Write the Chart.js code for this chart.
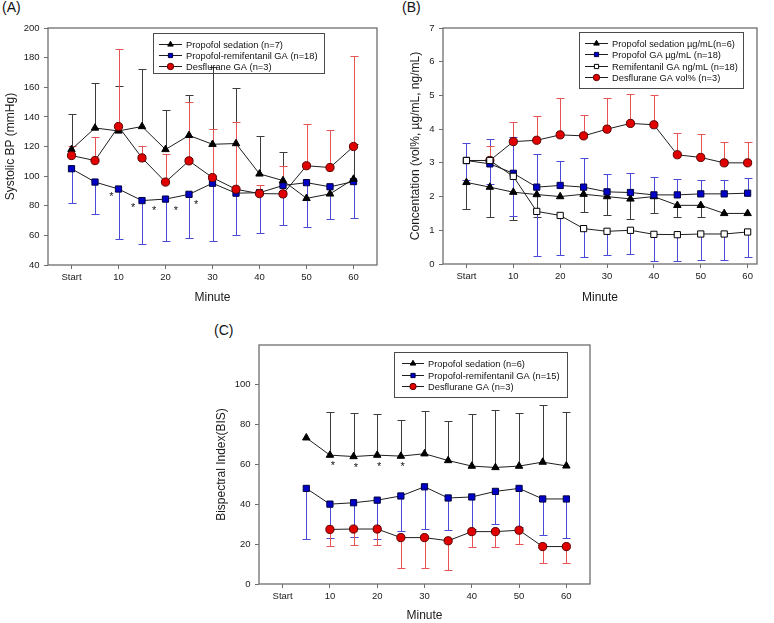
<!DOCTYPE html>
<html><head><meta charset="utf-8">
<script src="https://cdn.jsdelivr.net/npm/chart.js@4/dist/chart.umd.min.js"></script>
<style>
html,body{margin:0;padding:0;background:#fff;}
body{width:774px;height:623px;overflow:hidden;position:relative;font-family:'Liberation Sans',Arial,sans-serif;}
canvas{position:absolute;}
.lbl{position:absolute;font-size:14px;line-height:16px;color:#111;}
</style></head><body>
<div class="lbl" style="left:2px;top:-1px">(A)</div>
<div class="lbl" style="left:402px;top:-1px">(B)</div>
<div class="lbl" style="left:214px;top:322px">(C)</div>
<canvas id="cA" width="387" height="310" style="left:0;top:0"></canvas>
<canvas id="cB" width="369" height="310" style="left:405px;top:0"></canvas>
<canvas id="cC" width="400" height="313" style="left:212px;top:310px"></canvas>
<script>
// ---------- shared ----------
const minutes = [0,5,10,15,20,25,30,35,40,45,50,55,60];
const xTickValues = [0,10,20,30,40,50,60];
const xTickLabels = ['Start','10','20','30','40','50','60'];
const xTitle = 'Minute';

// ---------- Panel A ----------
const aTitle = 'Systolic BP (mmHg)';
const aYTicks = [40,60,80,100,120,140,160,180,200];
const aLabels = ['Propofol sedation (n=7)','Propofol-remifentanil GA (n=18)','Desflurane GA (n=3)'];
const aSedation      = [118,132.5,130.5,133.5,118,127.5,121.5,122,101.5,97,85,88,98];
const aSedationUpper = [141.7,162.7,160.8,172,144.8,154.5,174,159.4,127.4,116,null,null,122];
const aRemi          = [105,96,91.3,83.5,84.5,87.7,95.2,88.5,88.8,93.7,95.6,92.8,96.3];
const aRemiLower     = [82,74.7,57.3,54,56,58,56,60,61.5,67,65.4,71.3,72];
const aDes           = [113.9,110.5,133.5,112.3,96,110.3,99,91.1,88.2,88,107,105.8,120];
const aDesUpper      = [120.5,126.5,185.7,120.2,114.6,150,131.7,136.4,94,106.5,135,131.3,180.8];
const aStarX = [8.5,13.1,17.6,22.2,26.5];
const aStarY = [87.7,80.7,78.7,78.7,82.7];

// ---------- Panel B ----------
const bTitle = 'Concentation (vol%, \u00b5g/mL, ng/mL)';
const bYTicks = [0,1,2,3,4,5,6,7];
const bLabels = ['Propofol sedation \u00b5g/mL(n=6)','Propofol GA \u00b5g/mL (n=18)','Remifentanil GA ng/mL (n=18)','Desflurane GA vol% (n=3)'];
const bSedation      = [2.42,2.28,2.13,2.06,2.0,2.07,2.0,1.93,2.0,1.74,1.74,1.5,1.5];
const bSedationLower = [1.64,1.38,1.30,1.40,null,1.54,1.45,1.33,1.51,1.39,1.39,null,null];
const bPropofol      = [3.07,2.97,2.69,2.28,2.33,2.28,2.14,2.12,2.05,2.05,2.08,2.08,2.1];
const bPropofolUpper = [3.6,3.72,3.76,3.25,3.05,3.13,2.67,2.69,2.57,2.53,2.5,2.5,2.56];
const bRemi          = [3.07,3.07,2.6,1.56,1.44,1.05,0.97,1.0,0.88,0.87,0.89,0.89,0.95];
const bRemiLower     = [2.48,2.38,1.41,0.24,0.28,0.21,0.26,0.29,0.1,0.1,0.11,0.11,0.21];
const bDes           = [null,3.07,3.63,3.67,3.83,3.8,4.0,4.17,4.13,3.24,3.16,3.0,3.0];
const bDesUpper      = [null,3.51,4.22,4.4,4.93,4.41,4.92,5.03,5.0,3.88,3.85,3.63,3.63];

// ---------- Panel C ----------
const cTitle = 'Bispectral Index(BIS)';
const cYTicks = [0,20,40,60,80,100];
const cLabels = ['Propofol sedation (n=6)','Propofol-remifentanil GA (n=15)','Desflurane GA (n=3)'];
const cSedation      = [null,73.4,64.7,64.0,64.7,64.2,65.4,62,59.2,58.5,59.2,61.2,59.3];
const cSedationUpper = [null,null,86.3,85.8,85.2,82.5,87,82,85.5,87.5,85.7,90,86.3];
const cRemi          = [null,48,40.1,40.8,42.1,44.2,48.8,43.2,43.7,46.5,48,42.7,42.7];
const cRemiLower     = [null,22.7,22.9,23.4,22.8,26.6,27.8,27.3,27.8,30.3,28.7,24.7,23.3];
const cDes           = [null,null,27.4,27.6,27.6,23.3,23.3,21.7,26.3,26.3,27,18.8,18.8];
const cDesLower      = [null,null,19.3,19.5,19.5,8,8,7,18.5,18.5,20,10.5,10.5];
const cStarX = [10.6,15.5,20.4,25.4];
const cStarY = [60.8,59.7,60.5,60.5];

// ---------- styles ----------
const FONT = "'Liberation Sans', Arial, sans-serif";
Chart.defaults.font.family = FONT;
Chart.defaults.color = '#1a1a1a';
const ST = {
  tri:   {style:'triangle', radius:4.3, fill:'#000000', border:'#000000', err:'#3c3c3c', lr:3.2},
  blue:  {style:'rect',     radius:4.4, fill:'#0000c8', border:'#000040', err:'#4a4ad6', lr:3.0},
  white: {style:'rect',     radius:4.4, fill:'#ffffff', border:'#000000', err:'#4a4ad6', lr:3.0},
  red:   {style:'circle',   radius:4.1, fill:'#e00000', border:'#5a0000', err:'#e65454', lr:3.2}
};

function toXY(vals){ return minutes.map((m,i)=>({x:m, y:vals[i]})); }

function drawMarker(c, style, r, x, y){
  c.beginPath();
  if(style==='triangle'){
    for(let k=0;k<3;k++){ const a=k*2*Math.PI/3; const px=x+Math.sin(a)*r, py=y-Math.cos(a)*r; k?c.lineTo(px,py):c.moveTo(px,py); }
    c.closePath();
  } else if(style==='rect'){
    const h=r*Math.SQRT1_2; c.rect(x-h,y-h,2*h,2*h);
  } else { c.arc(x,y,r,0,Math.PI*2); }
  c.fill(); c.stroke();
}

function makePanel(id, p){
  const datasets = p.series.map(s=>({
    label:s.label, data:toXY(s.values), order:s.order,
    borderColor:'#1e1e1e', borderWidth:1, tension:0, fill:false, spanGaps:false,
    pointStyle:s.st.style, pointRadius:s.st.radius, pointHoverRadius:s.st.radius,
    pointBackgroundColor:s.st.fill, pointBorderColor:s.st.border, pointBorderWidth:1
  }));
  const deco = {
    id:'deco',
    beforeDatasetsDraw(chart){
      const c=chart.ctx, xs=chart.scales.x, ys=chart.scales.y;
      c.save(); c.lineWidth=1;
      p.series.forEach(s=>{
        if(!s.err) return;
        c.strokeStyle=s.st.err;
        s.values.forEach((v,i)=>{
          const e=s.err[i]; if(v==null||e==null) return;
          const x=Math.round(xs.getPixelForValue(minutes[i]))+0.5;
          const y0=ys.getPixelForValue(v), y1=Math.round(ys.getPixelForValue(e))+0.5;
          c.beginPath(); c.moveTo(x,y0); c.lineTo(x,y1); c.moveTo(x-4,y1); c.lineTo(x+4,y1); c.stroke();
        });
      });
      c.restore();
    },
    afterDraw(chart){
      const c=chart.ctx, a=chart.chartArea, xs=chart.scales.x, ys=chart.scales.y;
      c.save();
      c.strokeStyle='#6e6e6e'; c.lineWidth=1.3;
      c.strokeRect(a.left, a.top, a.right-a.left, a.bottom-a.top);
      c.fillStyle='#111'; c.font='11px '+FONT; c.textAlign='center'; c.textBaseline='alphabetic';
      (p.starX||[]).forEach((sx,i)=>{ c.fillText('*', xs.getPixelForValue(sx), ys.getPixelForValue(p.starY[i])+6); });
      const L=p.legend;
      c.strokeStyle='#4a4a4a'; c.lineWidth=1;
      c.strokeRect(L.left+0.5, L.top+0.5, L.width, L.height);
      c.font='9.3px '+FONT; c.textAlign='left'; c.textBaseline='middle';
      p.series.forEach((s,i)=>{
        const y=Math.round(L.top+L.rowStart+i*L.rowGap)+0.5;
        c.strokeStyle='#1e1e1e'; c.lineWidth=1;
        c.beginPath(); c.moveTo(L.left+L.lineX0,y); c.lineTo(L.left+L.lineX1,y); c.stroke();
        c.fillStyle=s.st.fill; c.strokeStyle=s.st.border;
        drawMarker(c, s.st.style, s.st.lr, L.left+(L.lineX0+L.lineX1)/2, y);
        c.fillStyle='#111'; c.fillText(s.label, L.left+L.textX, y+0.5);
      });
      c.restore();
    }
  };
  return new Chart(document.getElementById(id), {
    type:'line',
    data:{datasets},
    plugins:[deco],
    options:{
      responsive:false, animation:false, devicePixelRatio:1,
      layout:{padding:p.pad},
      plugins:{legend:{display:false}, tooltip:{enabled:false}},
      events:[],
      scales:{
        x:{type:'linear', min:-5, max:p.xMax,
           afterBuildTicks:s=>{ s.ticks = xTickValues.map(v=>({value:v})); },
           afterFit:s=>{ s.height=p.xH; },
           ticks:{callback:(v,i)=>xTickLabels[i], font:{size:9.5}, color:'#1a1a1a', padding:3, maxRotation:0, autoSkip:false},
           grid:{drawOnChartArea:false, drawTicks:true, tickLength:4, color:'#6e6e6e'},
           border:{display:false},
           title:{display:true, text:xTitle, font:{size:12}, color:'#1a1a1a', padding:{top:0,bottom:p.xTitlePad}}
        },
        y:{type:'linear', min:p.yMin, max:p.yMax,
           afterBuildTicks:s=>{ s.ticks = p.yTicks.map(v=>({value:v})); },
           afterFit:s=>{ s.width=p.yW; },
           ticks:{font:{size:9.5}, color:'#1a1a1a', padding:4.5, autoSkip:false},
           grid:{drawOnChartArea:false, drawTicks:true, tickLength:4, color:'#6e6e6e'},
           border:{display:false},
           title:{display:true, text:p.yTitle, font:{size:12}, color:'#1a1a1a', padding:{top:p.yTitlePad,bottom:0}}
        }
      }
    }
  });
}

makePanel('cA', {
  yTitle:aTitle, yTicks:aYTicks, yMin:40, yMax:200, xMax:65,
  pad:{left:0, top:28, right:10, bottom:0}, yW:48, xH:45, xTitlePad:5, yTitlePad:3,
  series:[
    {label:aLabels[0], values:aSedation, err:aSedationUpper, st:ST.tri,  order:1},
    {label:aLabels[1], values:aRemi,     err:aRemiLower,     st:ST.blue, order:2},
    {label:aLabels[2], values:aDes,      err:aDesUpper,      st:ST.red,  order:0}
  ],
  starX:aStarX, starY:aStarY,
  legend:{left:153, top:33, width:171, height:40, rowStart:10.5, rowGap:11.2, lineX0:6, lineX1:29, textX:33}
});

makePanel('cB', {
  yTitle:bTitle, yTicks:bYTicks, yMin:0, yMax:7, xMax:62,
  pad:{left:0, top:28, right:17, bottom:0}, yW:38, xH:46, xTitlePad:5, yTitlePad:3.5,
  series:[
    {label:bLabels[0], values:bSedation, err:bSedationLower, st:ST.tri,   order:2},
    {label:bLabels[1], values:bPropofol, err:bPropofolUpper, st:ST.blue,  order:1},
    {label:bLabels[2], values:bRemi,     err:bRemiLower,     st:ST.white, order:0},
    {label:bLabels[3], values:bDes,      err:bDesUpper,      st:ST.red,   order:3}
  ],
  legend:{left:174, top:32, width:164, height:56, rowStart:11, rowGap:11.3, lineX0:6, lineX1:29, textX:33}
});

makePanel('cC', {
  yTitle:cTitle, yTicks:cYTicks, yMin:0, yMax:120, xMax:65,
  pad:{left:0, top:35, right:22, bottom:0}, yW:47, xH:39, xTitlePad:0, yTitlePad:2.5,
  series:[
    {label:cLabels[0], values:cSedation, err:cSedationUpper, st:ST.tri,  order:1},
    {label:cLabels[1], values:cRemi,     err:cRemiLower,     st:ST.blue, order:2},
    {label:cLabels[2], values:cDes,      err:cDesLower,      st:ST.red,  order:0}
  ],
  starX:cStarX, starY:cStarY,
  legend:{left:182, top:42, width:173, height:45, rowStart:11, rowGap:11.5, lineX0:8, lineX1:30, textX:34}
});
</script>
</body></html>
